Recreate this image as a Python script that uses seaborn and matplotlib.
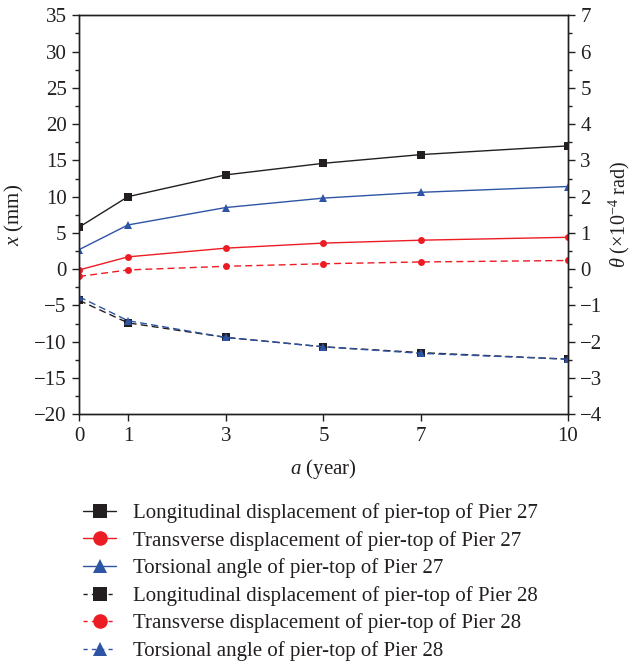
import numpy as np
import pandas as pd
import matplotlib
matplotlib.use("Agg")
import matplotlib.pyplot as plt
import seaborn as sns
from matplotlib.lines import Line2D
from matplotlib.ticker import MultipleLocator

# ---- data ----
years = [0, 1, 3, 5, 7, 10]
long_27 = [5.8, 10.0, 13.0, 14.6, 15.8, 17.0]       # mm
trans_27 = [-0.1, 1.7, 2.9, 3.6, 4.0, 4.4]          # mm
tors_27 = [0.54, 1.22, 1.70, 1.96, 2.12, 2.28]      # x1e-4 rad
long_28 = [-4.3, -7.4, -9.4, -10.7, -11.5, -12.4]   # mm
trans_28 = [-1.0, -0.1, 0.4, 0.75, 1.0, 1.2]        # mm
tors_28 = [-0.76, -1.42, -1.88, -2.14, -2.32, -2.48]  # x1e-4 rad

labels = [
    "Longitudinal displacement of pier-top of Pier 27",
    "Transverse displacement of pier-top of Pier 27",
    "Torsional angle of pier-top of Pier 27",
    "Longitudinal displacement of pier-top of Pier 28",
    "Transverse displacement of pier-top of Pier 28",
    "Torsional angle of pier-top of Pier 28",
]

sns.set_theme(style="ticks")
plt.rcParams["font.family"] = ["Liberation Serif", "DejaVu Serif"]
plt.rcParams["mathtext.fontset"] = "custom"
plt.rcParams["mathtext.rm"] = "Liberation Serif"
plt.rcParams["mathtext.it"] = "Liberation Serif:italic"

BLACK = "#231f20"
RED = "#ed1c24"
BLUE = "#2e54a5"
DASH = (5, 3)
FS = 15

fig = plt.figure(figsize=(6.33, 6.65), dpi=100)
ax = fig.add_axes([0.125, 0.377, 0.772, 0.600])
ax2 = ax.twinx()

series = [
    (ax, long_27, BLACK, "s", "-"),
    (ax, trans_27, RED, "o", "-"),
    (ax2, tors_27, BLUE, "^", "-"),
    (ax, long_28, BLACK, "s", "--"),
    (ax, trans_28, RED, "o", "--"),
    (ax2, tors_28, BLUE, "^", "--"),
]
ms = {"s": 5.5, "o": 5.0, "^": 5.5}
for a, vals, col, mk, ls in series:
    df = pd.DataFrame({"year": years, "val": vals})
    sns.lineplot(data=df, x="year", y="val", ax=a, color=col, marker=mk,
                 markersize=ms[mk], markeredgewidth=0, linewidth=1.0,
                 linestyle=ls, legend=False)
    if ls == "--":
        a.lines[-1].set_dashes(DASH)

ax.set_xlim(0, 10)
ax.set_ylim(-20, 35)
ax2.set_ylim(-4, 7)
ax.set_xticks(years)
ax.yaxis.set_major_locator(MultipleLocator(5))
ax.yaxis.set_minor_locator(MultipleLocator(2.5))
ax2.yaxis.set_major_locator(MultipleLocator(1))
ax2.yaxis.set_minor_locator(MultipleLocator(0.5))

for a in (ax, ax2):
    for s in a.spines.values():
        s.set_color("#231f20")
        s.set_linewidth(1.0)
    a.tick_params(axis="both", which="major", direction="out", length=5,
                  width=1.0, color="#231f20", labelsize=FS, labelcolor="#231f20",
                  pad=4)
    a.tick_params(axis="both", which="minor", direction="out", length=3,
                  width=1.0, color="#231f20")

ax.set_xlabel(r"$a$ (year)", fontsize=FS, color="#231f20", labelpad=8)
ax.set_ylabel(r"$x$ (mm)", fontsize=FS, color="#231f20", labelpad=6)
ax2.set_ylabel(r"$\theta$ ($\times$10$^{-4}$ rad)", fontsize=14.5, color="#231f20",
               labelpad=3)

handles = []
for a, vals, col, mk, ls in series:
    h = Line2D([], [], color=col, marker=mk, markersize=10.5, markeredgewidth=0,
               linewidth=1.0, linestyle=ls)
    if ls == "--":
        h.set_dashes((3, 3))
    handles.append(h)

fig.legend(handles, labels, loc="upper left", bbox_to_anchor=(0.118, 0.256),
           frameon=False, fontsize=FS, handlelength=1.6, handletextpad=0.8,
           labelspacing=0.37, borderaxespad=0, labelcolor="#231f20")

fig.savefig("out.png", dpi=100)
